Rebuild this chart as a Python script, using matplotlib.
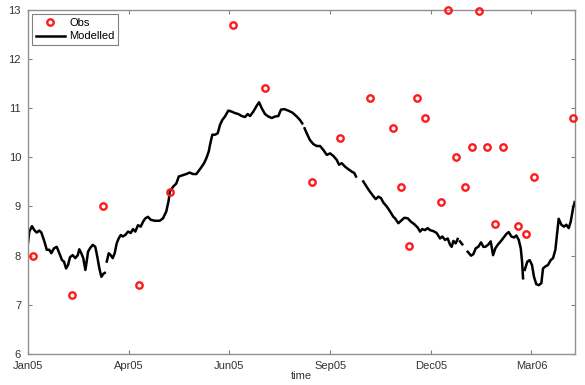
import numpy as np
import matplotlib
matplotlib.use("Agg")
import matplotlib.pyplot as plt

plt.rcParams['font.family'] = ['Liberation Sans', 'DejaVu Sans']

# Observations (days since 1 Jan 2005, temperature)
obs_day = [4.5, 39.9, 68, 100.7, 128.8, 185.9, 214.9, 257.5, 282.9, 310.1,
           331, 338.2, 345.5, 352.7, 360, 374.5, 380.9, 388.1, 396.3, 402.6,
           409, 416.2, 423.5, 430.7, 444.3, 451.6, 458.8, 494.2]
obs_val = [8.0, 7.2, 9.0, 7.4, 9.3, 12.7, 11.4, 9.5, 10.4, 11.2,
           10.6, 9.4, 8.2, 11.2, 10.8, 9.1, 13.0, 10.0, 9.4, 10.2,
           12.97, 10.2, 8.65, 10.2, 8.6, 8.45, 9.6, 10.8]

nan = float("nan")
mod_day = [0, 1.2, 3.6, 5.7, 7.9, 10.2, 12.1, 14.8, 17.0, 19.3, 21.1, 23.6, 26.0, 28.4,
           30.8, 32.6, 34.5, 36.3, 38.1, 40.5, 42.9, 45.1, 46.5, 48.3, 50.1, 52.0, 53.2,
           54.4, 56.2, 58.7, 61.0, 62.8, 64.7, 66.5, 68.3, 69.6, 70.5,
           71.4, 73.2, 75.0, 76.8, 78.6, 80.4, 82.2, 84.1, 85.9, 88.2, 90.7, 93.1, 95.2,
           97.3, 99.7, 102.2, 104.3, 106.4, 108.8, 111.3, 114.9, 119.4, 122.4, 125.4,
           127.6, 128.5, 131.5, 134.5, 136.7, 140.6, 143.5, 146.6, 149.6, 152.6, 156.6,
           159.6, 161.7, 163.9,
           165.0, 167.1, 169.6, 172.0, 174.1, 176.2, 178.6, 181.6, 184.7, 187.7, 190.7,
           193.8, 196.8, 199.2, 201.3, 204.3, 207.4, 209.5, 211.9, 214.9, 217.9, 221.0,
           224.0, 227.0, 229.4, 232.4, 236.0, 239.7, 243.7, 246.6, 248.7, 249.6,
           250.8, 252.7, 255.7, 258.7, 261.8, 264.8, 267.8, 270.9, 273.9, 276.8, 279.9,
           282.0, 284.5, 287.5, 290.4, 293.5, 295.9, 297.4, 300.5,
           304.0, 307.1, 310.1, 313.1, 315.3, 317.7, 320.1, 322.2, 325.3, 328.3, 331.3,
           332.8, 335.8, 338.2, 341.2, 344.3, 347.3, 350.3, 353.4, 355.5, 357.5, 360.0,
           362.4, 364.5, 367.5, 370.6, 373.6, 375.7, 378.1, 380.6, 382.7, 384.2, 385.7,
           387.8, 389.6, 390.6,
           391.7, 393.8, 396.0,
           398.7, 401.7, 403.8, 406.0, 408.3, 410.8, 412.9, 414.7, 417.1, 419.6, 421.7,
           423.8, 426.2, 428.6, 430.7, 433.7, 435.9, 438.3, 440.7, 442.8, 445.0, 446.8,
           448.0, 448.9, 449.6,
           450.4, 452.8, 454.9, 457.0, 458.8, 460.9, 463.1, 465.5, 467.0, 469.1, 471.5,
           474.0, 476.1, 478.2, 480.0, 481.2, 483.6, 486.0, 488.1, 490.3, 492.1, 494.2,
           495.7]
mod_val = [8.26, 8.49, 8.60, 8.52, 8.47, 8.51, 8.47, 8.29, 8.12, 8.12, 8.05, 8.15, 8.18, 8.05,
           7.91, 7.88, 7.74, 7.81, 7.97, 8.01, 7.95, 8.01, 8.13, 8.05, 7.95, 7.71, 7.88,
           8.08, 8.15, 8.22, 8.18, 7.98, 7.74, 7.57, 7.63, 7.65, nan,
           7.88, 8.05, 8.01, 7.95, 8.05, 8.25, 8.35, 8.42, 8.39, 8.42, 8.49, 8.46, 8.54,
           8.49, 8.62, 8.59, 8.69, 8.76, 8.79, 8.73, 8.71, 8.71, 8.76, 8.90,
           9.13, 9.30, 9.40, 9.47, 9.61, 9.64, 9.66, 9.69, 9.66, 9.66, 9.78,
           9.88, 9.98, 10.12,
           10.25, 10.46, 10.46, 10.49, 10.66, 10.76, 10.83, 10.95, 10.93, 10.90, 10.88,
           10.84, 10.82, 10.88, 10.84, 10.93, 11.05, 11.12, 11.00, 10.88, 10.83, 10.80,
           10.83, 10.84, 10.97, 10.98, 10.95, 10.91, 10.83, 10.76, 10.69, nan,
           10.59, 10.49, 10.35, 10.27, 10.23, 10.23, 10.15, 10.05, 10.08, 10.03, 9.95,
           9.85, 9.88, 9.81, 9.76, 9.71, 9.68, 9.61, nan,
           9.51, 9.40, 9.30, 9.21, 9.15, 9.20, 9.17, 9.08, 9.00, 8.90, 8.79,
           8.76, 8.66, 8.71, 8.77, 8.76, 8.69, 8.64, 8.57, 8.49, 8.54, 8.52,
           8.56, 8.52, 8.50, 8.46, 8.35, 8.39, 8.32, 8.35, 8.22, 8.18, 8.30,
           8.25, 8.34, nan,
           8.29, 8.23, nan,
           8.08, 8.00, 8.03, 8.15, 8.18, 8.27, 8.18, 8.18, 8.22, 8.29, 8.01,
           8.15, 8.23, 8.29, 8.35, 8.44, 8.48, 8.39, 8.37, 8.41, 8.32, 8.15,
           7.88, 7.54, nan,
           7.71, 7.88, 7.91, 7.81, 7.57, 7.42, 7.40, 7.44, 7.74, 7.78, 7.81,
           7.91, 7.95, 8.12, 8.49, 8.75, 8.63, 8.59, 8.63, 8.56, 8.69, 8.96,
           9.09]

tick_labels = ["Jan05", "Apr05", "Jun05", "Sep05", "Dec05", "Mar06"]
y_ticks = [6, 7, 8, 9, 10, 11, 12, 13]

fig = plt.figure(figsize=(5.85, 3.85), dpi=100)
ax = fig.add_axes([0.0479, 0.0805, 0.935, 0.894])

ax.plot(obs_day, obs_val, linestyle="none", marker="o", markersize=4.6,
        markerfacecolor="none", markeredgecolor="#ff1a1a", markeredgewidth=1.7,
        label="Obs", zorder=3, clip_on=False)
ax.plot(mod_day, mod_val, color="black", linewidth=1.8, label="Modelled", zorder=2)

ax.set_xlim(0, 496)
ax.set_ylim(6, 13)
ax.set_xticks([i * 91.3 for i in range(len(tick_labels))])
ax.set_xticklabels(tick_labels)
ax.set_yticks(y_ticks)
ax.tick_params(direction="in", length=3, width=0.8, colors="#808080",
               labelcolor="#333333", labelsize=8, top=True, right=True, pad=2)
ax.tick_params(axis="x", pad=5)
ax.tick_params(axis="y", pad=5)
for s in ax.spines.values():
    s.set_color("#909090")
    s.set_linewidth(1.0)
ax.set_xlabel("time", fontsize=8, color="#333333", labelpad=0)

leg = ax.legend(loc="upper left", fontsize=8, frameon=True, fancybox=False,
                borderaxespad=0.4, handlelength=2.6, borderpad=0.3,
                labelspacing=0.35, handletextpad=0.4)
leg.get_frame().set_edgecolor("#606060")
leg.get_frame().set_linewidth(0.8)

fig.savefig("out.png", dpi=100)
